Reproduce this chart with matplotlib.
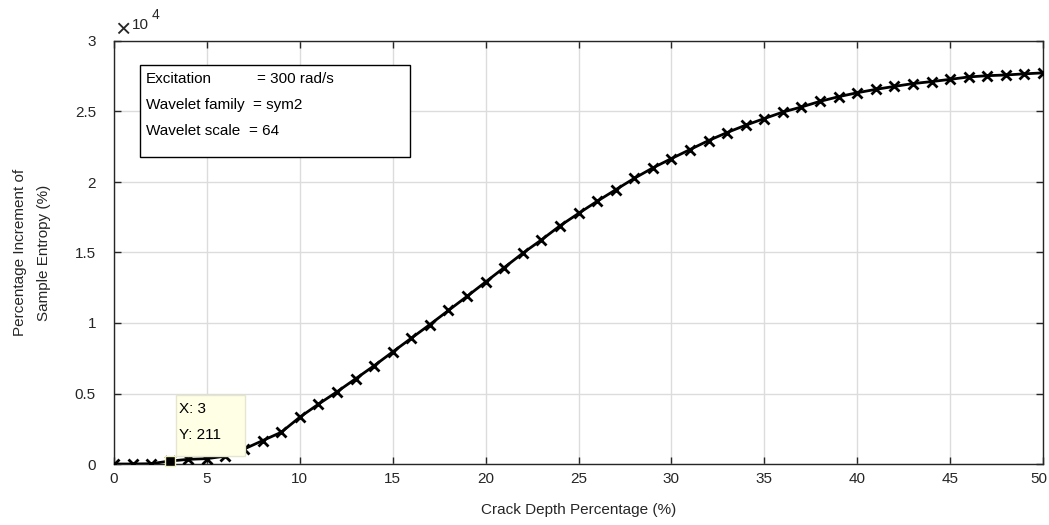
import matplotlib
matplotlib.use("Agg")
import matplotlib.pyplot as plt
from matplotlib.ticker import FixedLocator
from matplotlib.transforms import ScaledTranslation

# Crack depth (%) and percentage increment of sample entropy (%)
crack_depth = list(range(0, 51))
entropy_increment = [
    0, 0, 20, 211, 330, 380, 560, 1060, 1660, 2250,
    3320, 4240, 5120, 6040, 6970, 7950, 8920, 9890, 10890, 11890,
    12910, 13930, 14950, 15890, 16890, 17770, 18630, 19450, 20260, 21000,
    21660, 22300, 22940, 23510, 24030, 24500, 24960, 25320, 25720, 26050,
    26330, 26570, 26780, 26980, 27120, 27280, 27450, 27540, 27590, 27670,
    27740,
]

x_ticks = [0, 5, 10, 15, 20, 25, 30, 35, 40, 45, 50]
y_ticks = [0, 5000, 10000, 15000, 20000, 25000, 30000]
y_tick_labels = ["0", "0.5", "1", "1.5", "2", "2.5", "3"]

tip_x = 3
tip_y = 211

info_labels = ["Excitation", "Wavelet family", "Wavelet scale"]
info_values = ["= 300 rad/s", "= sym2", "= 64"]

plt.rcParams["font.family"] = ["Liberation Sans", "DejaVu Sans"]
plt.rcParams["font.size"] = 11

W, H = 1049, 525
fig = plt.figure(figsize=(W / 100, H / 100), dpi=100)
ax = fig.add_axes([114 / W, 61 / H, (1043 - 114) / W, (464 - 41) / H])

tick_color = "#262626"

ax.plot(crack_depth, entropy_increment, color="black", linewidth=2,
        marker="x", markersize=7, markeredgewidth=2, zorder=3)

ax.set_xlim(0, 50)
ax.set_ylim(0, 30000)
ax.xaxis.set_major_locator(FixedLocator(x_ticks))
ax.yaxis.set_major_locator(FixedLocator(y_ticks))
ax.set_yticklabels(y_tick_labels)

ax.grid(True, color="#dcdcdc", linewidth=1)
ax.set_axisbelow(True)
ax.tick_params(direction="in", length=5, width=1, top=True, right=True,
               colors=tick_color, labelsize=11)
ax.tick_params(axis="x", pad=6)
ax.tick_params(axis="y", pad=13)
for s in ax.spines.values():
    s.set_color(tick_color)
    s.set_linewidth(1)

# keep the last x tick label inside the figure
fig.canvas.draw()
last = ax.get_xticklabels()[-1]
last.set_transform(last.get_transform() + ScaledTranslation(-4 / 100, 0, fig.dpi_scale_trans))

ax.set_xlabel("Crack Depth Percentage (%)", color=tick_color, fontsize=11,
              labelpad=12)
ax.set_ylabel("Percentage Increment of\nSample Entropy (%)", color=tick_color,
              fontsize=11, labelpad=17, linespacing=1.95)

# Exponent marker above the y axis
fig.text(115 / W, 1 - 30 / H, "\u00d7", fontsize=19, color=tick_color,
         va="center", ha="left")
fig.text(132 / W, 1 - 25 / H, "10", fontsize=11, color=tick_color,
         va="center", ha="left")
fig.text(152 / W, 1 - 15 / H, "4", fontsize=10, color=tick_color,
         va="center", ha="left")

# Parameter box
box = plt.Rectangle((140 / W, 1 - 157 / H), 270 / W, 92 / H,
                    transform=fig.transFigure, facecolor="white",
                    edgecolor="black", linewidth=1, zorder=5)
fig.patches.append(box)
row_y = [79, 105, 131]
val_x = [257, 253, 249]
for lab, val, yy, vx in zip(info_labels, info_values, row_y, val_x):
    fig.text(146 / W, 1 - yy / H, lab, fontsize=11, color="black",
             va="center", ha="left", zorder=6)
    fig.text(vx / W, 1 - yy / H, val, fontsize=11, color="black",
             va="center", ha="left", zorder=6)

# Data tip
ax.plot([tip_x], [tip_y], marker="s", markersize=7, color="black",
        markeredgecolor="#f0f0c0", markeredgewidth=1, zorder=6,
        clip_on=False)
tip_box = plt.Rectangle((176 / W, 1 - 456 / H), 69 / W, 61 / H,
                        transform=fig.transFigure, facecolor="#ffffe6",
                        edgecolor="#e6e6d0", linewidth=1, zorder=5)
fig.patches.append(tip_box)
fig.text(179 / W, 1 - 409 / H, f"X: {tip_x}", fontsize=11,
         color="black", va="center", ha="left", zorder=6)
fig.text(179 / W, 1 - 435 / H, f"Y: {tip_y}", fontsize=11,
         color="black", va="center", ha="left", zorder=6)

fig.savefig("out.png", dpi=100)
